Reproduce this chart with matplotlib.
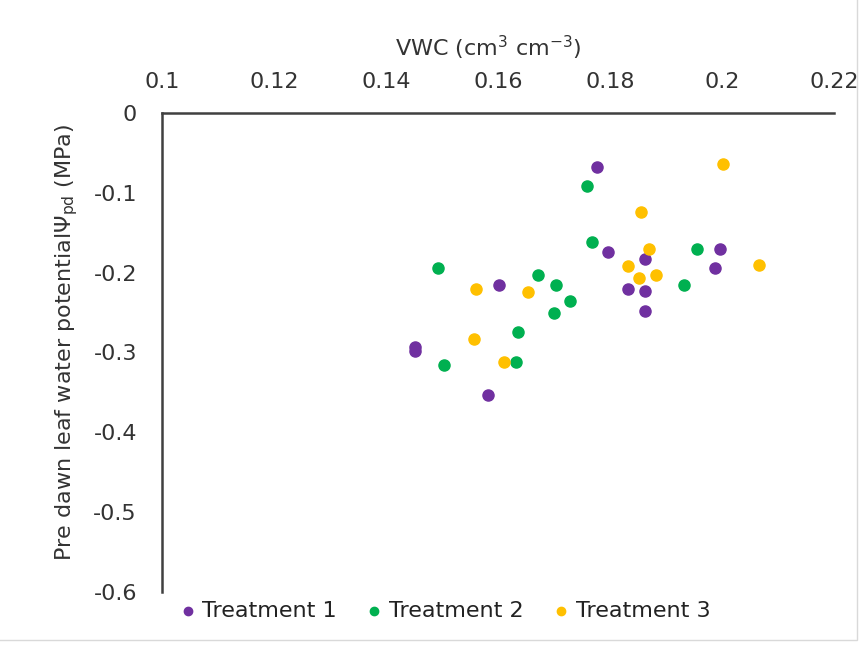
import matplotlib
matplotlib.use("Agg")
import matplotlib.pyplot as plt
from matplotlib.patches import Rectangle

plt.rcParams['font.family'] = ['DejaVu Sans']

# Treatment 1 (purple)
t1_vwc = [0.1452, 0.1452, 0.1602, 0.1582, 0.1777, 0.1796, 0.1863, 0.1996, 0.1988, 0.1833, 0.1863, 0.1863]
t1_psi = [-0.293, -0.298, -0.2155, -0.3538, -0.0673, -0.1742, -0.183, -0.170, -0.1946, -0.2206, -0.2227, -0.2485]

# Treatment 2 (green)
t2_vwc = [0.1493, 0.1671, 0.1703, 0.1729, 0.1700, 0.1636, 0.1504, 0.1633, 0.1759, 0.1767, 0.1955, 0.1932]
t2_psi = [-0.1946, -0.2034, -0.2155, -0.236, -0.2503, -0.2744, -0.3158, -0.312, -0.0915, -0.162, -0.170, -0.2155]

# Treatment 3 (yellow)
t3_vwc = [0.1560, 0.1654, 0.1558, 0.1611, 0.2002, 0.1855, 0.1870, 0.1833, 0.2066, 0.1852, 0.1882]
t3_psi = [-0.2206, -0.2247, -0.2832, -0.312, -0.0639, -0.1237, -0.1704, -0.1917, -0.1909, -0.2068, -0.2034]

x_ticks = [0.1, 0.12, 0.14, 0.16, 0.18, 0.2, 0.22]
x_labels = ['0.1', '0.12', '0.14', '0.16', '0.18', '0.2', '0.22']
y_ticks = [0, -0.1, -0.2, -0.3, -0.4, -0.5, -0.6]
y_labels = ['0', '-0.1', '-0.2', '-0.3', '-0.4', '-0.5', '-0.6']

fig = plt.figure(figsize=(8.67, 6.45), dpi=100)
ax = fig.add_axes([162 / 867, 1 - 592 / 645, 672 / 867, 479 / 645])

ax.scatter(t1_vwc, t1_psi, s=64, color='#7030A0', label='Treatment 1', zorder=3)
ax.scatter(t2_vwc, t2_psi, s=64, color='#00B050', label='Treatment 2', zorder=3)
ax.scatter(t3_vwc, t3_psi, s=64, color='#FFC000', label='Treatment 3', zorder=3)

ax.set_xlim(0.1, 0.22)
ax.set_ylim(-0.6, 0)
ax.xaxis.tick_top()
ax.xaxis.set_label_position('top')
ax.set_xticks(x_ticks)
ax.set_xticklabels(x_labels)
ax.set_yticks(y_ticks)
ax.set_yticklabels(y_labels)
ax.tick_params(axis='both', length=0, labelsize=16, colors='#333333')
ax.tick_params(axis='x', pad=15)
ax.tick_params(axis='y', pad=18)

for s in ['bottom', 'right']:
    ax.spines[s].set_visible(False)
for s in ['top', 'left']:
    ax.spines[s].set_color('#404040')
    ax.spines[s].set_linewidth(1.8)

ax.set_xlabel('VWC (cm$^{3}$ cm$^{-3}$)', fontsize=16, color='#333333')
ax.xaxis.set_label_coords(0.485, 1.118)
ax.set_ylabel('Pre dawn leaf water potential\u03a8$_{\\mathrm{pd}}$ (MPa)', fontsize=16,
              color='#333333')
ax.yaxis.set_label_coords(-0.122, 0.52)

fig.legend(loc='center', bbox_to_anchor=(445 / 867, 1 - 611 / 645), ncol=3,
           frameon=False, fontsize=16, markerscale=0.75, handlelength=0.7,
           handletextpad=0.3, columnspacing=1.35, labelcolor='#222222')

# faint chart-area border
fig.patches.append(Rectangle((-0.01, 5 / 645), 857 / 867 + 0.01, 1.0, transform=fig.transFigure,
                             fill=False, edgecolor='#d9d9d9', linewidth=1))

fig.savefig('out.png', dpi=100)
